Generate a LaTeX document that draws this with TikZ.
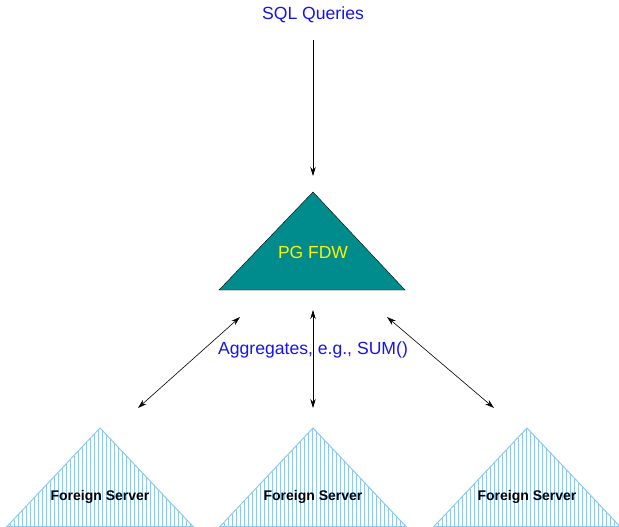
\documentclass[tikz,border=0pt]{standalone}
\usepackage{fontspec}
\setmainfont{Liberation Sans}
\usetikzlibrary{arrows.meta}

\definecolor{fdwteal}{RGB}{0,140,140}
\definecolor{hatchblue}{RGB}{140,200,240}
\definecolor{qblue}{RGB}{20,20,240}

\tikzset{
	link/.style={line width=0.6pt,{Stealth[length=9pt,width=5.5pt]}-{Stealth[length=9pt,width=5.5pt]}},
	bluetext/.style={text=qblue,font=\fontsize{17.6}{20}\selectfont,inner sep=0pt},
	srvtext/.style={font=\fontsize{14}{16}\selectfont\bfseries,inner sep=0pt},
	hatch/.style={draw=hatchblue,line width=0.8pt}
}

\begin{document}
\begin{tikzpicture}[x=1pt,y=-1pt]

	\useasboundingbox (0,0) rectangle (619,527);

	% query text and its arrow
	\node[bluetext] (sql) at (313,15) {SQL Queries};
	\coordinate (qtop) at (313,40);
	\coordinate (qend) at (313,176);
	\draw[line width=0.6pt,-{Stealth[length=9pt,width=5.5pt]}] (qtop) -- (qend);

	% PG FDW triangle
	\coordinate (F1) at (219,290);
	\coordinate (F2) at (405,290);
	\coordinate (F3) at (313,192);
	\filldraw[fill=fdwteal,draw=black] (F1) -- (F2) -- (F3) -- cycle;
	\node[text=yellow,font=\fontsize{17.5}{20}\selectfont,inner sep=0pt] (fdw) at (313,252) {PG FDW};

	% foreign servers (hatched)
	\foreach \cx/\ha/\hb/\hc in {100/-90/-86/90,313/-89/-85/91,527/-89/-85/91}{
		\foreach \hx in {\ha,\hb,...,\hc}
			\draw[hatch] (\cx+\hx,{428+abs(\hx)*99/93}) -- (\cx+\hx,527);
		\draw[hatchblue,line width=1pt] (\cx-93,526.5) -- (\cx+93,526.5) -- (\cx,428) -- cycle;
	}
	\node[srvtext] (srvA) at (100,497) {Foreign Server};
	\node[srvtext] (srvB) at (313,497) {Foreign Server};
	\node[srvtext] (srvC) at (527,497) {Foreign Server};

	% aggregate links
	\coordinate (lA) at (240,317);
	\coordinate (lB) at (138,408);
	\coordinate (mA) at (313,310);
	\coordinate (mB) at (313,408);
	\coordinate (rA) at (387,317);
	\coordinate (rB) at (494,408);
	\draw[link] (lA) -- (lB);
	\draw[link] (mA) -- (mB);
	\draw[link] (rA) -- (rB);

	\node[bluetext] (agg) at (313,350) {Aggregates, e.g., SUM()};

\end{tikzpicture}
\end{document}
